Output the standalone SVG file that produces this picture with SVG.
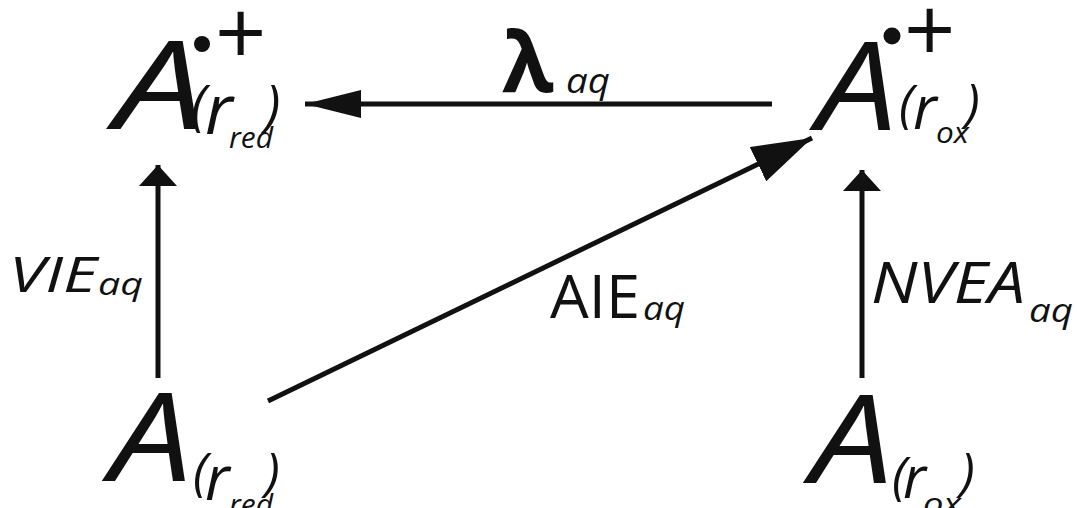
<svg xmlns="http://www.w3.org/2000/svg" width="1077" height="508" viewBox="0 0 1077 508">
  <style>
    text { font-family: "Open Sans", "Noto Sans", sans-serif; fill: #111; }
    .it { font-style: italic; font-weight: 500; }
    .big { font-size: 122px; }
    .sup { font-size: 90px; font-weight: 400; }
    .lam { font-weight: bold; font-size: 84px; }
    .edge { stroke: #111; stroke-width: 5; fill: none; }
  </style>
  <defs>
    <marker id="headLong" markerUnits="userSpaceOnUse" viewBox="0 0 56 28" refX="56" refY="14" markerWidth="56" markerHeight="28" orient="auto">
      <polygon points="0,0 56,14 0,28" fill="#111"/>
    </marker>
    <marker id="headDiag" markerUnits="userSpaceOnUse" viewBox="0 0 60 38" refX="60" refY="19" markerWidth="60" markerHeight="38" orient="auto">
      <polygon points="0,0 60,19 0,38" fill="#111"/>
    </marker>
    <marker id="headShort" markerUnits="userSpaceOnUse" viewBox="0 0 21 38" refX="21" refY="19" markerWidth="21" markerHeight="38" orient="auto">
      <polygon points="0,0 21,19 0,38" fill="#111"/>
    </marker>
  </defs>

  <g id="connectors">
    <line class="edge" x1="772" y1="104" x2="305" y2="104" marker-end="url(#headLong)"/>
    <line class="edge" x1="158" y1="378" x2="158" y2="165" marker-end="url(#headShort)"/>
    <line class="edge" x1="862" y1="378" x2="862" y2="170" marker-end="url(#headShort)"/>
    <line class="edge" x1="268" y1="401" x2="812" y2="138" marker-end="url(#headDiag)"/>
    <g id="edge-labels">
      <text class="lam" x="502" y="92">λ</text>
      <text class="it" x="566" y="93" font-size="35" textLength="44" lengthAdjust="spacingAndGlyphs">aq</text>
      <text class="it" x="9" y="292" font-size="49" textLength="88" lengthAdjust="spacingAndGlyphs">VIE</text>
      <text class="it" x="98" y="295" font-size="31" textLength="45" lengthAdjust="spacingAndGlyphs">aq</text>
      <text x="550" y="318" font-size="60" textLength="90" lengthAdjust="spacingAndGlyphs">AIE</text>
      <text class="it" x="643" y="320" font-size="32" textLength="42" lengthAdjust="spacingAndGlyphs">aq</text>
      <text class="it" x="871" y="303" font-size="57" textLength="154" lengthAdjust="spacingAndGlyphs">NVEA</text>
      <text class="it" x="1029" y="322" font-size="33" textLength="44" lengthAdjust="spacingAndGlyphs">aq</text>
    </g>
  </g>

  <g id="node-A-rred-cation">
    <text class="it big" x="115" y="129" textLength="90" lengthAdjust="spacingAndGlyphs">A</text>
    <circle cx="202" cy="44" r="8" fill="#111"/>
    <text class="sup" x="215" y="65">+</text>
    <text class="it" x="191" y="124" font-size="54">(</text>
    <text class="it" x="205" y="134" font-size="70">r</text>
    <text class="it" x="229" y="148" font-size="30" textLength="44" lengthAdjust="spacingAndGlyphs">red</text>
    <text class="it" x="265" y="124" font-size="54">)</text>
  </g>

  <g id="node-A-rox-cation">
    <text class="it big" x="817" y="130" textLength="80" lengthAdjust="spacingAndGlyphs">A</text>
    <circle cx="892" cy="36" r="8.5" fill="#111"/>
    <text class="sup" x="904" y="62">+</text>
    <text class="it" x="899" y="122" font-size="52">(</text>
    <text class="it" x="913" y="129" font-size="60">r</text>
    <text class="it" x="936" y="143" font-size="29" textLength="33" lengthAdjust="spacingAndGlyphs">ox</text>
    <text class="it" x="965" y="121" font-size="52">)</text>
  </g>

  <g id="node-A-rred">
    <text class="it big" x="110" y="481" textLength="82" lengthAdjust="spacingAndGlyphs">A</text>
    <text class="it" x="193" y="490" font-size="52">(</text>
    <text class="it" x="205" y="500" font-size="62">r</text>
    <text class="it" x="229" y="515" font-size="30" textLength="44" lengthAdjust="spacingAndGlyphs">red</text>
    <text class="it" x="265" y="490" font-size="52">)</text>
  </g>

  <g id="node-A-rox">
    <text class="it big" x="811" y="483" textLength="82" lengthAdjust="spacingAndGlyphs">A</text>
    <text class="it" x="892" y="494" font-size="52">(</text>
    <text class="it" x="903" y="498" font-size="58">r</text>
    <text class="it" x="923" y="514" font-size="30" textLength="38" lengthAdjust="spacingAndGlyphs">ox</text>
    <text class="it" x="960" y="490" font-size="52">)</text>
  </g>
</svg>
